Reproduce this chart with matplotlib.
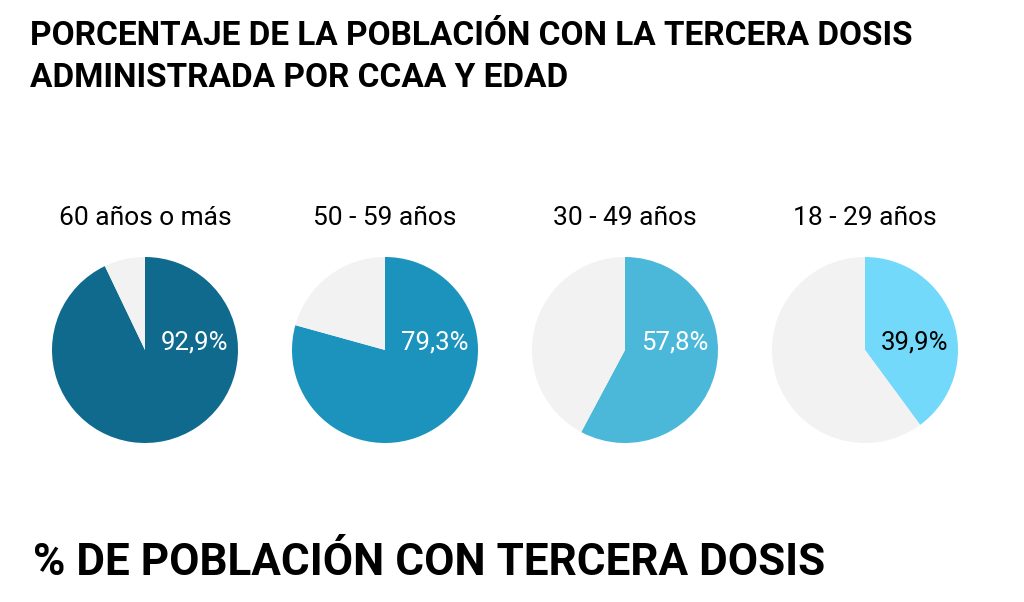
import matplotlib.pyplot as plt

grupos = ['60 años o más', '50 - 59 años', '30 - 49 años', '18 - 29 años']
porcentajes = [92.9, 79.3, 57.8, 39.9]
colores = ['#0f6a8e', '#1b93bd', '#4bb8d9', '#72d9fa']
color_texto = ['white', 'white', 'white', 'black']
gris = '#f2f2f2'

W, H = 1024, 602
fig = plt.figure(figsize=(W / 100, H / 100), dpi=100)
fig.patch.set_facecolor('white')

fig.text(30 / W, 1 - 20 / H, 'PORCENTAJE DE LA POBLACIÓN CON LA TERCERA DOSIS\nADMINISTRADA POR CCAA Y EDAD',
         family='Roboto', weight='bold', fontsize=24, va='top', ha='left', linespacing=1.4)

r = 93
cy = 350
for i, (g, p) in enumerate(zip(grupos, porcentajes)):
    cx = 145 + 240 * i
    ax = fig.add_axes([(cx - r) / W, (H - cy - r) / H, 2 * r / W, 2 * r / H])
    ax.pie([p, 100 - p], colors=[colores[i], gris], startangle=90, counterclock=False,
           radius=1, wedgeprops=dict(linewidth=0))
    ax.set_xlim(-1, 1)
    ax.set_ylim(-1, 1)
    ax.axis('off')
    ax.text(0.53, 0.08, f'{p:.1f}%'.replace('.', ','), ha='center', va='center',
            color=color_texto[i], family='Roboto', fontsize=18.5)
    fig.text(cx / W, 1 - 218 / H, g, ha='center', va='center', family='Roboto', fontsize=19)

fig.text(33 / W, 1 - 563 / H, '% DE POBLACIÓN CON TERCERA DOSIS', family='Roboto',
         weight='bold', fontsize=31.7, va='center', ha='left')

fig.savefig('out.png', dpi=100, facecolor='white')
